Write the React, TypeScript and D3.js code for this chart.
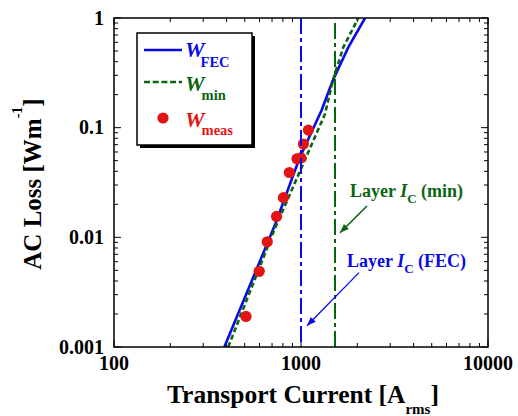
import React from "react";
import * as d3 from "d3";

// W_FEC curve
const fecCurrent = [389, 726, 979, 1290, 1477, 1790, 2200];
const fecLoss = [0.001, 0.013, 0.052, 0.145, 0.268, 0.54, 1.0];
// W_min curve
const minCurrent = [408, 720, 1343, 1483, 1683, 2025];
const minLoss = [0.001, 0.0117, 0.133, 0.272, 0.54, 1.0];
// measured points
const measCurrent = [508, 598, 660, 740, 805, 866, 952, 1000, 1030, 1095];
const measLoss = [0.0019, 0.0049, 0.0091, 0.0155, 0.023, 0.039, 0.052, 0.053, 0.071, 0.095];

const layerIcFec = 1000;
const layerIcMin = 1520;

const xTickValues = [100, 1000, 10000];
const xTickLabels = ["100", "1000", "10000"];
const yTickValues = [0.001, 0.01, 0.1, 1];
const yTickLabels = ["0.001", "0.01", "0.1", "1"];

const BLUE = "#0a0ae6";
const GREEN = "#0b640f";
const RED = "#e31414";
const FONT = '"Liberation Serif", "Times New Roman", Times, serif';

function arrowHead(x1: number, y1: number, x2: number, y2: number, len: number, half: number) {
  const dx = x2 - x1, dy = y2 - y1;
  const L = Math.hypot(dx, dy);
  const ux = dx / L, uy = dy / L;
  const bx = x2 - ux * len, by = y2 - uy * len;
  return `M${bx - uy * half},${by + ux * half}L${x2},${y2}L${bx + uy * half},${by - ux * half}Z`;
}

export default function App() {
  const width = 518;
  const height = 416;
  const left = 114, right = 488, top = 18, bottom = 347;

  const x = d3.scaleLog().domain([100, 10000]).range([left, right]);
  const y = d3.scaleLog().domain([0.001, 1]).range([bottom, top]);

  const curve = d3
    .line<[number, number]>()
    .x((d) => x(d[0]))
    .y((d) => y(d[1]));

  const fecPath = curve(fecCurrent.map((c, i) => [c, fecLoss[i]]));
  const minPath = curve(minCurrent.map((c, i) => [c, minLoss[i]]));

  const xTicks = x.ticks();
  const yTicks = y.ticks();
  const isMajor = (v: number) => Math.abs(Math.log10(v) - Math.round(Math.log10(v))) < 1e-9;

  // annotation arrows (data coordinates)
  const gTail = [x(layerIcMin) + 32, y(0.0193)];
  const gTip = [x(layerIcMin) + 5, y(0.011)];
  const bTail = [x(layerIcMin) + 24, y(0.00477)];
  const bTip = [x(layerIcFec) + 6, y(0.00156)];

  return (
    <svg
      width={width}
      height={height}
      style={{ position: "absolute", left: 0, top: 0, background: "#fff", fontFamily: FONT, fontWeight: 700 }}
    >
      <defs>
        <clipPath id="plotArea">
          <rect x={left} y={top} width={right - left} height={bottom - top} />
        </clipPath>
      </defs>

      {/* ticks */}
      {xTicks.map((t, i) => {
        const len = isMajor(t) ? 7 : 4;
        return (
          <g key={"xt" + i} stroke="#000" strokeWidth={1}>
            <line x1={x(t)} x2={x(t)} y1={bottom} y2={bottom - len} />
            <line x1={x(t)} x2={x(t)} y1={top} y2={top + len} />
          </g>
        );
      })}
      {yTicks.map((t, i) => {
        const len = isMajor(t) ? 7 : 4;
        return (
          <g key={"yt" + i} stroke="#000" strokeWidth={1}>
            <line x1={left} x2={left + len} y1={y(t)} y2={y(t)} />
            <line x1={right} x2={right - len} y1={y(t)} y2={y(t)} />
          </g>
        );
      })}

      {/* curves */}
      <g clipPath="url(#plotArea)">
        <path d={fecPath || ""} fill="none" stroke={BLUE} strokeWidth={2.6} />
        <path d={minPath || ""} fill="none" stroke={GREEN} strokeWidth={2.6} strokeDasharray="5,3" />
        {measCurrent.map((c, i) => (
          <circle key={"m" + i} cx={x(c)} cy={y(measLoss[i])} r={5.6} fill={RED} />
        ))}
        <line
          x1={x(layerIcFec)} x2={x(layerIcFec)} y1={top} y2={bottom}
          stroke={BLUE} strokeWidth={2} strokeDasharray="16,4,4,4"
        />
        <line
          x1={x(layerIcMin)} x2={x(layerIcMin)} y1={top + 5} y2={bottom}
          stroke={GREEN} strokeWidth={2} strokeDasharray="16,4,4,4"
        />
      </g>

      {/* frame */}
      <rect x={left} y={top} width={right - left} height={bottom - top} fill="none" stroke="#000" strokeWidth={1.5} />

      {/* tick labels */}
      {xTickValues.map((t, i) => (
        <text key={"xl" + i} x={x(t)} y={bottom + 23} textAnchor="middle" fontSize={20}>
          {xTickLabels[i]}
        </text>
      ))}
      {yTickValues.map((t, i) => (
        <text key={"yl" + i} x={left - 10} y={y(t)} dy="0.34em" textAnchor="end" fontSize={20}>
          {yTickLabels[i]}
        </text>
      ))}

      {/* axis titles */}
      <text x={167} y={403} fontSize={25.5}>
        Transport Current [A
        <tspan fontSize={15} dy={11}>rms</tspan>
        <tspan fontSize={25.5} dy={-11}>]</tspan>
      </text>
      <text transform="translate(41,184) rotate(-90)" textAnchor="middle" fontSize={25}>
        AC Loss [Wm
        <tspan fontSize={14} dy={-19}>-1</tspan>
        <tspan fontSize={25} dy={19}>]</tspan>
      </text>

      {/* annotations */}
      <line x1={gTail[0]} y1={gTail[1]} x2={gTip[0]} y2={gTip[1]} stroke={GREEN} strokeWidth={1.6} />
      <path d={arrowHead(gTail[0], gTail[1], gTip[0], gTip[1], 9, 3.5)} fill={GREEN} />
      <text x={x(1829)} y={y(0.0233)} fontSize={18} fill={GREEN}>
        Layer <tspan fontStyle="italic">I</tspan>
        <tspan fontSize={13} dy={6}>C</tspan>
        <tspan dy={-6}> (min)</tspan>
      </text>
      <line x1={bTail[0]} y1={bTail[1]} x2={bTip[0]} y2={bTip[1]} stroke={BLUE} strokeWidth={1.3} />
      <path d={arrowHead(bTail[0], bTail[1], bTip[0], bTip[1], 9, 3.5)} fill={BLUE} />
      <text x={x(1762)} y={y(0.00537)} fontSize={18} fill={BLUE}>
        Layer <tspan fontStyle="italic">I</tspan>
        <tspan fontSize={13} dy={6}>C</tspan>
        <tspan dy={-6}> (FEC)</tspan>
      </text>

      {/* legend */}
      <g>
        <rect x={140} y={36} width={115} height={112} fill="#000" />
        <rect x={137} y={33} width={115} height={112} fill="#fff" stroke="#000" strokeWidth={1.5} />
        <line x1={144} x2={182} y1={50} y2={50} stroke={BLUE} strokeWidth={2.6} />
        <text x={185} y={57} fontSize={22} fill={BLUE}>
          <tspan fontStyle="italic">W</tspan>
          <tspan fontSize={14.5} dx={-4} dy={10}>FEC</tspan>
        </text>
        <line x1={144} x2={182} y1={82} y2={82} stroke={GREEN} strokeWidth={2.6} strokeDasharray="6,2.7" />
        <text x={185} y={91} fontSize={22} fill={GREEN}>
          <tspan fontStyle="italic">W</tspan>
          <tspan fontSize={14.5} dx={-3} dy={9}>min</tspan>
        </text>
        <circle cx={163} cy={118} r={5.6} fill={RED} />
        <text x={185} y={127} fontSize={22} fill={RED}>
          <tspan fontStyle="italic">W</tspan>
          <tspan fontSize={14.5} dx={-3} dy={8}>meas</tspan>
        </text>
      </g>
    </svg>
  );
}
